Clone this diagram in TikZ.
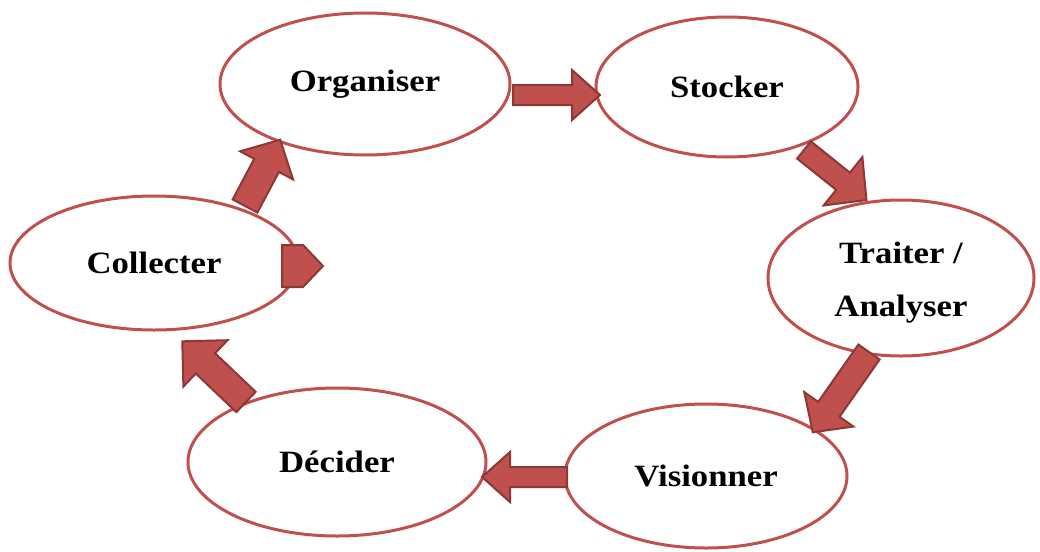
\documentclass[tikz,border=0pt]{standalone}
\usepackage{fontspec}
\setmainfont{Liberation Serif}
\newfontfamily\lblfont[FakeStretch=1.12]{Liberation Serif}
\usetikzlibrary{shapes.geometric}
\definecolor{ered}{RGB}{192,80,77}
\definecolor{edark}{RGB}{140,56,54}
% #1 x, #2 y (tail centre), #3 angle, #4 length, #5 shaft half width, #6 head half width, #7 head length
\newcommand\barrowat[7]{%
  \draw[barrow, shift={(#1,#2)}, rotate=#3]
    (0,-#5) -- ({#4-#7},-#5) -- ({#4-#7},-#6) -- (#4,0) -- ({#4-#7},#6) -- ({#4-#7},#5) -- (0,#5) -- cycle;}
\begin{document}
\begin{tikzpicture}[x=1pt,y=-1pt,
  stage/.style={ellipse, draw=ered, line width=3pt, fill=white, inner sep=0pt,
    font=\lblfont\fontsize{31}{53}\selectfont\bfseries, align=center},
  barrow/.style={fill=ered, draw=edark, line width=2pt, line join=miter}]
\useasboundingbox (0,0) rectangle (1040,551);
\node[stage, minimum width=290, minimum height=142] (org) at (365,84) {Organiser};
\node[stage, minimum width=262, minimum height=140] (sto) at (727,87) {Stocker};
\node[stage, minimum width=266, minimum height=156] (tra) at (901,278) {\rule{0pt}{30pt}Traiter /\\Analyser};
\node[stage, minimum width=282, minimum height=144] (vis) at (706,476) {Visionner};
\node[stage, minimum width=298, minimum height=148] (dec) at (337,462) {Décider};
\node[stage, minimum width=288, minimum height=134] (col) at (154,263) {Collecter};
% block arrows
\barrowat{513}{95}{0}{87}{10}{25}{28}
\barrowat{804}{150}{-38.7}{80}{11}{31}{30}
\barrowat{869}{352}{-125}{98}{13}{30}{28}
\barrowat{567}{477}{180}{85}{10}{25}{28}
\barrowat{246}{402}{136.4}{88}{14}{32}{32}
\barrowat{245}{206}{62}{75}{14}{30}{29}
\draw[barrow] (282,245) -- (303,245) -- (323,266) -- (303,287) -- (282,287) -- cycle;
\end{tikzpicture}
\end{document}
